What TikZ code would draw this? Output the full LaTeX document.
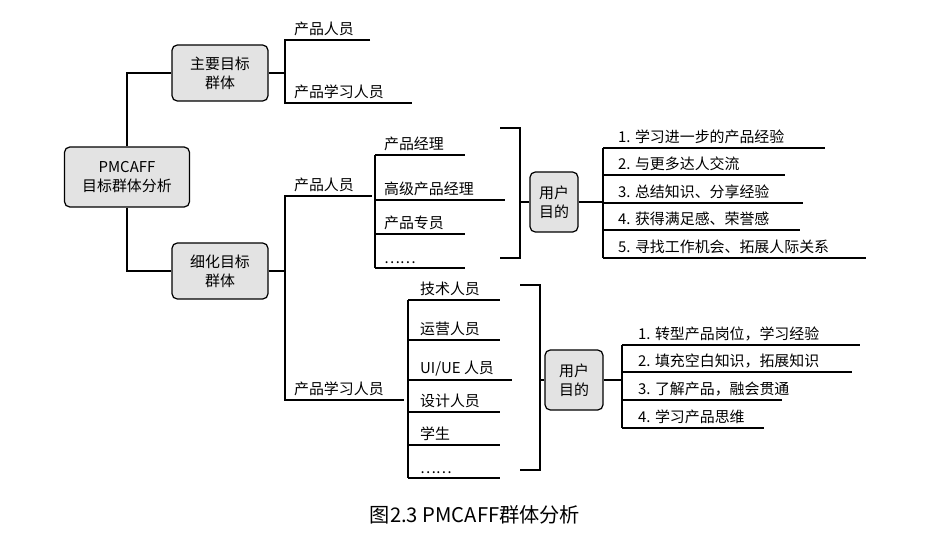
\documentclass[tikz,border=0pt]{standalone}
\usepackage{fontspec}
\setmainfont{Noto Sans CJK SC}
\begin{document}
\begin{tikzpicture}
            [x=0.02cm, y=-0.02cm, line width=0.7pt,
            box/.style={draw=black, fill=gray!22, rounded corners=3pt, align=center, font=\fontsize{8.5}{11}\selectfont, inner sep=0pt},
            lbl/.style={anchor=south west, font=\fontsize{8.5}{9}\selectfont, inner sep=2pt}]

            \useasboundingbox (0,0) rectangle (951,542);

            % boxes
            \node[box, minimum width=125*0.02cm, minimum height=60*0.02cm] (root) at (127,177) {PMCAFF\\目标群体分析};
            \node[box, minimum width=96*0.02cm, minimum height=56*0.02cm] (main) at (220,73) {主要目标\\群体};
            \node[box, minimum width=96*0.02cm, minimum height=56*0.02cm] (sub) at (220,271) {细化目标\\群体};
            \node[box, minimum width=48*0.02cm, minimum height=60*0.02cm] (goal1) at (554,202) {用户\\目的};
            \node[box, minimum width=58*0.02cm, minimum height=60*0.02cm] (goal2) at (574,380) {用户\\目的};

            % root to groups
            \draw (root.north) |- (main.west);
            \draw (root.south) |- (sub.west);

            % main group
            \draw (main.east) -- (285,73);
            \draw (370,40) -- (285,40) -- (285,103) -- (412,103);
            \node[lbl] (m1) at (290,40) {产品人员};
            \node[lbl] (m2) at (290,103) {产品学习人员};

            % detailed group
            \draw (sub.east) -- (285,271);
            \draw (372,196) -- (285,196) -- (285,400) -- (404,400);
            \node[lbl] (d1) at (290,196) {产品人员};
            \node[lbl] (d2) at (290,400) {产品学习人员};

            % product staff
            \draw (375,155) -- (375,268);
            \foreach \y/\xe/\t [count=\i] in {155/465/产品经理, 200/505/高级产品经理, 234/465/产品专员, 268/465/……}
                {\draw (375,\y) -- (\xe,\y); \node[lbl] (p\i) at (380,\y) {\t};}
            \draw (500,128) -- (520,128) -- (520,258) -- (500,258);
            \draw (520,202) -- (goal1.west);
            \draw (goal1.east) -- (603,202);
            \draw (603,148) -- (603,258);
            \foreach \y/\xe/\t [count=\i] in {148/825/1. 学习进一步的产品经验, 175/785/2. 与更多达人交流, 203/803/3. 总结知识、分享经验, 230/800/4. 获得满足感、荣誉感, 258/866/5. 寻找工作机会、拓展人际关系}
                {\draw (603,\y) -- (\xe,\y); \node[lbl] (a\i) at (614,\y) {\t};}

            % product learners
            \draw (408,300) -- (408,478);
            \foreach \y/\xe/\t [count=\i] in {300/500/技术人员, 340/500/运营人员, 380/512/{UI/UE 人员}, 412/500/设计人员, 445/500/学生, 478/500/……}
                {\draw (408,\y) -- (\xe,\y); \node[lbl] (l\i) at (416,\y) {\t};}
            \draw (520,285) -- (540,285) -- (540,470) -- (520,470);
            \draw (540,380) -- (goal2.west);
            \draw (goal2.east) -- (622,380);
            \draw (622,345) -- (622,428);
            \foreach \y/\xe/\t [count=\i] in {345/860/1. 转型产品岗位，学习经验, 372/852/2. 填充空白知识，拓展知识, 400/782/3. 了解产品，融会贯通, 428/764/4. 学习产品思维}
                {\draw (622,\y) -- (\xe,\y); \node[lbl] (b\i) at (634,\y) {\t};}

            \node[font=\fontsize{11.5}{13}\selectfont] (cap) at (475,515) {图2.3 PMCAFF群体分析};

        \end{tikzpicture}
\end{document}
